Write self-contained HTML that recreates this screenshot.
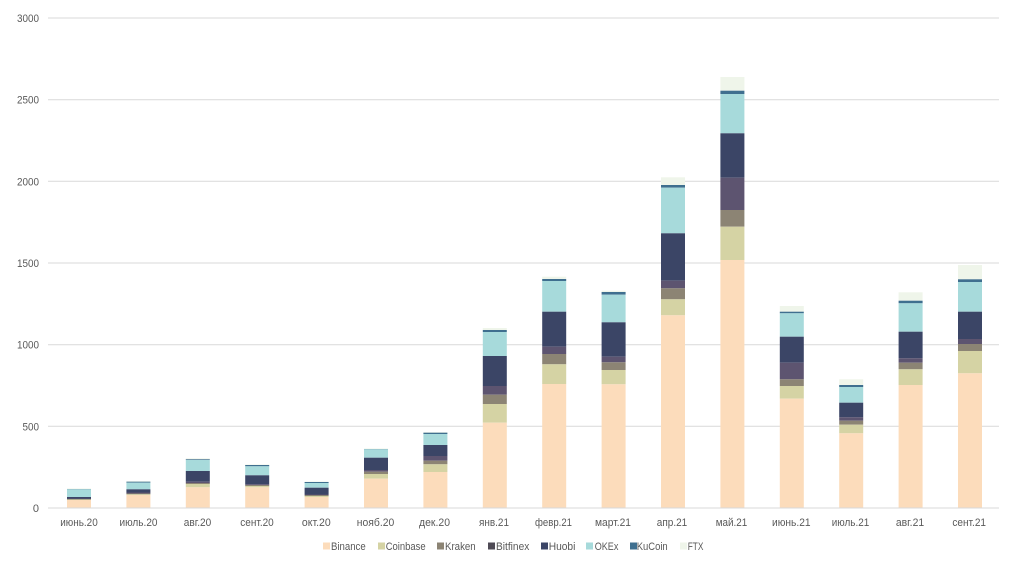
<!DOCTYPE html>
<html><head><meta charset="utf-8">
<style>
html,body{margin:0;padding:0;background:#fff;}
svg{display:block;font-family:"Liberation Sans","DejaVu Sans",sans-serif;}
</style></head>
<body>
<svg width="1024" height="571" viewBox="0 0 1024 571" xmlns="http://www.w3.org/2000/svg">
<rect width="1024" height="571" fill="#fff"/>
<g stroke="#d9d9d9" stroke-width="1">
<line x1="48" y1="18" x2="999" y2="18"/>
<line x1="48" y1="99.7" x2="999" y2="99.7"/>
<line x1="48" y1="181.3" x2="999" y2="181.3"/>
<line x1="48" y1="263" x2="999" y2="263"/>
<line x1="48" y1="344.7" x2="999" y2="344.7"/>
<line x1="48" y1="426.3" x2="999" y2="426.3"/>
</g>
<g font-size="11" fill="#595959" text-anchor="end">
<text x="39" y="22" textLength="22" lengthAdjust="spacingAndGlyphs">3000</text>
<text x="39" y="103.7" textLength="22" lengthAdjust="spacingAndGlyphs">2500</text>
<text x="39" y="185.3" textLength="22" lengthAdjust="spacingAndGlyphs">2000</text>
<text x="39" y="267" textLength="22" lengthAdjust="spacingAndGlyphs">1500</text>
<text x="39" y="348.7" textLength="22" lengthAdjust="spacingAndGlyphs">1000</text>
<text x="39" y="430.3" textLength="16.5" lengthAdjust="spacingAndGlyphs">500</text>
<text x="39" y="512">0</text>
</g>
<g>
<g transform="translate(67,0)">
<rect x="0" y="488.5" width="24" height="0.5" fill="#eff5ea"/>
<rect x="0" y="489" width="24" height="0.3" fill="#3f6f8f"/>
<rect x="0" y="489.3" width="24" height="7.7" fill="#a7dadb"/>
<rect x="0" y="497" width="24" height="1.5" fill="#3b4566"/>
<rect x="0" y="498.5" width="24" height="0.5" fill="#5d5470"/>
<rect x="0" y="499" width="24" height="0.5" fill="#8c8474"/>
<rect x="0" y="499.5" width="24" height="0.5" fill="#d5d3a4"/>
<rect x="0" y="500" width="24" height="8" fill="#fcdcbb"/>
</g>
<g transform="translate(126.4,0)">
<rect x="0" y="481" width="24" height="0.7" fill="#eff5ea"/>
<rect x="0" y="481.7" width="24" height="1" fill="#3f6f8f"/>
<rect x="0" y="482.7" width="24" height="6.6" fill="#a7dadb"/>
<rect x="0" y="489.3" width="24" height="3.2" fill="#3b4566"/>
<rect x="0" y="492.5" width="24" height="1" fill="#5d5470"/>
<rect x="0" y="493.5" width="24" height="0.8" fill="#8c8474"/>
<rect x="0" y="494.3" width="24" height="0.7" fill="#d5d3a4"/>
<rect x="0" y="495" width="24" height="13" fill="#fcdcbb"/>
</g>
<g transform="translate(185.8,0)">
<rect x="0" y="458.3" width="24" height="1" fill="#eff5ea"/>
<rect x="0" y="459.3" width="24" height="0.7" fill="#3f6f8f"/>
<rect x="0" y="460" width="24" height="11" fill="#a7dadb"/>
<rect x="0" y="471" width="24" height="10.7" fill="#3b4566"/>
<rect x="0" y="481.7" width="24" height="1.3" fill="#5d5470"/>
<rect x="0" y="483" width="24" height="1" fill="#8c8474"/>
<rect x="0" y="484" width="24" height="3.3" fill="#d5d3a4"/>
<rect x="0" y="487.3" width="24" height="20.7" fill="#fcdcbb"/>
</g>
<g transform="translate(245.2,0)">
<rect x="0" y="464.5" width="24" height="0.5" fill="#eff5ea"/>
<rect x="0" y="465" width="24" height="1.3" fill="#3f6f8f"/>
<rect x="0" y="466.3" width="24" height="9" fill="#a7dadb"/>
<rect x="0" y="475.3" width="24" height="9" fill="#3b4566"/>
<rect x="0" y="484.3" width="24" height="0.7" fill="#5d5470"/>
<rect x="0" y="485" width="24" height="1" fill="#8c8474"/>
<rect x="0" y="486" width="24" height="1.3" fill="#d5d3a4"/>
<rect x="0" y="487.3" width="24" height="20.7" fill="#fcdcbb"/>
</g>
<g transform="translate(304.6,0)">
<rect x="0" y="481.5" width="24" height="0.5" fill="#eff5ea"/>
<rect x="0" y="482" width="24" height="1" fill="#3f6f8f"/>
<rect x="0" y="483" width="24" height="4.7" fill="#a7dadb"/>
<rect x="0" y="487.7" width="24" height="6.8" fill="#3b4566"/>
<rect x="0" y="494.5" width="24" height="0.5" fill="#5d5470"/>
<rect x="0" y="495" width="24" height="1" fill="#8c8474"/>
<rect x="0" y="496" width="24" height="1" fill="#d5d3a4"/>
<rect x="0" y="497" width="24" height="11" fill="#fcdcbb"/>
</g>
<g transform="translate(364,0)">
<rect x="0" y="448.5" width="24" height="0.5" fill="#eff5ea"/>
<rect x="0" y="449" width="24" height="0.3" fill="#3f6f8f"/>
<rect x="0" y="449.3" width="24" height="8.4" fill="#a7dadb"/>
<rect x="0" y="457.7" width="24" height="12.3" fill="#3b4566"/>
<rect x="0" y="470" width="24" height="1.7" fill="#5d5470"/>
<rect x="0" y="471.7" width="24" height="2.3" fill="#8c8474"/>
<rect x="0" y="474" width="24" height="4.7" fill="#d5d3a4"/>
<rect x="0" y="478.7" width="24" height="29.3" fill="#fcdcbb"/>
</g>
<g transform="translate(423.4,0)">
<rect x="0" y="432" width="24" height="0.7" fill="#eff5ea"/>
<rect x="0" y="432.7" width="24" height="1.3" fill="#3f6f8f"/>
<rect x="0" y="434" width="24" height="11" fill="#a7dadb"/>
<rect x="0" y="445" width="24" height="11" fill="#3b4566"/>
<rect x="0" y="456" width="24" height="4.7" fill="#5d5470"/>
<rect x="0" y="460.7" width="24" height="3.6" fill="#8c8474"/>
<rect x="0" y="464.3" width="24" height="7.7" fill="#d5d3a4"/>
<rect x="0" y="472" width="24" height="36" fill="#fcdcbb"/>
</g>
<g transform="translate(482.8,0)">
<rect x="0" y="328" width="24" height="2" fill="#eff5ea"/>
<rect x="0" y="330" width="24" height="2" fill="#3f6f8f"/>
<rect x="0" y="332" width="24" height="24" fill="#a7dadb"/>
<rect x="0" y="356" width="24" height="30" fill="#3b4566"/>
<rect x="0" y="386" width="24" height="8.7" fill="#5d5470"/>
<rect x="0" y="394.7" width="24" height="9.3" fill="#8c8474"/>
<rect x="0" y="404" width="24" height="18.7" fill="#d5d3a4"/>
<rect x="0" y="422.7" width="24" height="85.3" fill="#fcdcbb"/>
</g>
<g transform="translate(542.2,0)">
<rect x="0" y="276.7" width="24" height="2.3" fill="#eff5ea"/>
<rect x="0" y="279" width="24" height="2" fill="#3f6f8f"/>
<rect x="0" y="281" width="24" height="30.7" fill="#a7dadb"/>
<rect x="0" y="311.7" width="24" height="35" fill="#3b4566"/>
<rect x="0" y="346.7" width="24" height="7.3" fill="#5d5470"/>
<rect x="0" y="354" width="24" height="10.3" fill="#8c8474"/>
<rect x="0" y="364.3" width="24" height="19.7" fill="#d5d3a4"/>
<rect x="0" y="384" width="24" height="124" fill="#fcdcbb"/>
</g>
<g transform="translate(601.6,0)">
<rect x="0" y="290.7" width="24" height="1.3" fill="#eff5ea"/>
<rect x="0" y="292" width="24" height="2.7" fill="#3f6f8f"/>
<rect x="0" y="294.7" width="24" height="27.6" fill="#a7dadb"/>
<rect x="0" y="322.3" width="24" height="34.4" fill="#3b4566"/>
<rect x="0" y="356.7" width="24" height="5.6" fill="#5d5470"/>
<rect x="0" y="362.3" width="24" height="7.7" fill="#8c8474"/>
<rect x="0" y="370" width="24" height="14.3" fill="#d5d3a4"/>
<rect x="0" y="384.3" width="24" height="123.7" fill="#fcdcbb"/>
</g>
<g transform="translate(661,0)">
<rect x="0" y="177.3" width="24" height="7.7" fill="#eff5ea"/>
<rect x="0" y="185" width="24" height="2.7" fill="#3f6f8f"/>
<rect x="0" y="187.7" width="24" height="45.6" fill="#a7dadb"/>
<rect x="0" y="233.3" width="24" height="47.4" fill="#3b4566"/>
<rect x="0" y="280.7" width="24" height="7.6" fill="#5d5470"/>
<rect x="0" y="288.3" width="24" height="11" fill="#8c8474"/>
<rect x="0" y="299.3" width="24" height="16" fill="#d5d3a4"/>
<rect x="0" y="315.3" width="24" height="192.7" fill="#fcdcbb"/>
</g>
<g transform="translate(720.4,0)">
<rect x="0" y="77" width="24" height="13.7" fill="#eff5ea"/>
<rect x="0" y="90.7" width="24" height="3.3" fill="#3f6f8f"/>
<rect x="0" y="94" width="24" height="39.3" fill="#a7dadb"/>
<rect x="0" y="133.3" width="24" height="44.4" fill="#3b4566"/>
<rect x="0" y="177.7" width="24" height="32.3" fill="#5d5470"/>
<rect x="0" y="210" width="24" height="16.7" fill="#8c8474"/>
<rect x="0" y="226.7" width="24" height="33.3" fill="#d5d3a4"/>
<rect x="0" y="260" width="24" height="248" fill="#fcdcbb"/>
</g>
<g transform="translate(779.8,0)">
<rect x="0" y="306" width="24" height="5.7" fill="#eff5ea"/>
<rect x="0" y="311.7" width="24" height="1.6" fill="#3f6f8f"/>
<rect x="0" y="313.3" width="24" height="23.4" fill="#a7dadb"/>
<rect x="0" y="336.7" width="24" height="26" fill="#3b4566"/>
<rect x="0" y="362.7" width="24" height="16.6" fill="#5d5470"/>
<rect x="0" y="379.3" width="24" height="6.7" fill="#8c8474"/>
<rect x="0" y="386" width="24" height="12.7" fill="#d5d3a4"/>
<rect x="0" y="398.7" width="24" height="109.3" fill="#fcdcbb"/>
</g>
<g transform="translate(839.2,0)">
<rect x="0" y="379.3" width="24" height="5.7" fill="#eff5ea"/>
<rect x="0" y="385" width="24" height="2" fill="#3f6f8f"/>
<rect x="0" y="387" width="24" height="15.7" fill="#a7dadb"/>
<rect x="0" y="402.7" width="24" height="14.6" fill="#3b4566"/>
<rect x="0" y="417.3" width="24" height="3.4" fill="#5d5470"/>
<rect x="0" y="420.7" width="24" height="4" fill="#8c8474"/>
<rect x="0" y="424.7" width="24" height="8.6" fill="#d5d3a4"/>
<rect x="0" y="433.3" width="24" height="74.7" fill="#fcdcbb"/>
</g>
<g transform="translate(898.6,0)">
<rect x="0" y="292.3" width="24" height="8.4" fill="#eff5ea"/>
<rect x="0" y="300.7" width="24" height="2.6" fill="#3f6f8f"/>
<rect x="0" y="303.3" width="24" height="28.4" fill="#a7dadb"/>
<rect x="0" y="331.7" width="24" height="26.6" fill="#3b4566"/>
<rect x="0" y="358.3" width="24" height="4.4" fill="#5d5470"/>
<rect x="0" y="362.7" width="24" height="6.6" fill="#8c8474"/>
<rect x="0" y="369.3" width="24" height="15.7" fill="#d5d3a4"/>
<rect x="0" y="385" width="24" height="123" fill="#fcdcbb"/>
</g>
<g transform="translate(958,0)">
<rect x="0" y="265" width="24" height="14.3" fill="#eff5ea"/>
<rect x="0" y="279.3" width="24" height="2.7" fill="#3f6f8f"/>
<rect x="0" y="282" width="24" height="29.7" fill="#a7dadb"/>
<rect x="0" y="311.7" width="24" height="27.3" fill="#3b4566"/>
<rect x="0" y="339" width="24" height="5" fill="#5d5470"/>
<rect x="0" y="344" width="24" height="7" fill="#8c8474"/>
<rect x="0" y="351" width="24" height="22.3" fill="#d5d3a4"/>
<rect x="0" y="373.3" width="24" height="134.7" fill="#fcdcbb"/>
</g>
</g>
<line x1="48" y1="508" x2="999" y2="508" stroke="#d9d9d9" stroke-width="1"/>
<g font-size="11" fill="#595959" text-anchor="middle">
<text x="79" y="526" textLength="37.5" lengthAdjust="spacingAndGlyphs">июнь.20</text>
<text x="138.5" y="526" textLength="38" lengthAdjust="spacingAndGlyphs">июль.20</text>
<text x="197.5" y="526" textLength="27.5" lengthAdjust="spacingAndGlyphs">авг.20</text>
<text x="257" y="526" textLength="33.5" lengthAdjust="spacingAndGlyphs">сент.20</text>
<text x="316.3" y="526" textLength="28.8" lengthAdjust="spacingAndGlyphs">окт.20</text>
<text x="375.5" y="526" textLength="37.5" lengthAdjust="spacingAndGlyphs">нояб.20</text>
<text x="434.5" y="526" textLength="31" lengthAdjust="spacingAndGlyphs">дек.20</text>
<text x="494" y="526" textLength="30" lengthAdjust="spacingAndGlyphs">янв.21</text>
<text x="553.5" y="526" textLength="37" lengthAdjust="spacingAndGlyphs">февр.21</text>
<text x="613" y="526" textLength="36" lengthAdjust="spacingAndGlyphs">март.21</text>
<text x="672" y="526" textLength="30.5" lengthAdjust="spacingAndGlyphs">апр.21</text>
<text x="731.5" y="526" textLength="31.5" lengthAdjust="spacingAndGlyphs">май.21</text>
<text x="791.3" y="526" textLength="38.5" lengthAdjust="spacingAndGlyphs">июнь.21</text>
<text x="850.5" y="526" textLength="37.5" lengthAdjust="spacingAndGlyphs">июль.21</text>
<text x="910" y="526" textLength="28.3" lengthAdjust="spacingAndGlyphs">авг.21</text>
<text x="969.2" y="526" textLength="33.7" lengthAdjust="spacingAndGlyphs">сент.21</text>
</g>
<g font-size="11" fill="#595959">
<rect x="323" y="542.5" width="7" height="7" fill="#fcdcbb"/><text x="331" y="550" textLength="34.7" lengthAdjust="spacingAndGlyphs">Binance</text>
<rect x="378" y="542.5" width="7" height="7" fill="#d5d3a4"/><text x="385.7" y="550" textLength="40" lengthAdjust="spacingAndGlyphs">Coinbase</text>
<rect x="437" y="542.5" width="7" height="7" fill="#8c8474"/><text x="445" y="550" textLength="30.7" lengthAdjust="spacingAndGlyphs">Kraken</text>
<rect x="488" y="542.5" width="7" height="7" fill="#4e4a55"/><text x="496" y="550" textLength="33.3" lengthAdjust="spacingAndGlyphs">Bitfinex</text>
<rect x="541" y="542.5" width="7" height="7" fill="#3b4566"/><text x="548.7" y="550" textLength="26.7" lengthAdjust="spacingAndGlyphs">Huobi</text>
<rect x="586" y="542.5" width="7" height="7" fill="#a7dadb"/><text x="594.7" y="550" textLength="23.7" lengthAdjust="spacingAndGlyphs">OKEx</text>
<rect x="630" y="542.5" width="7" height="7" fill="#3f6f8f"/><text x="636.7" y="550" textLength="31" lengthAdjust="spacingAndGlyphs">KuCoin</text>
<rect x="680" y="542.5" width="7" height="7" fill="#eff5ea"/><text x="687.7" y="550" textLength="15.7" lengthAdjust="spacingAndGlyphs">FTX</text>
</g>
</svg>
</body></html>
